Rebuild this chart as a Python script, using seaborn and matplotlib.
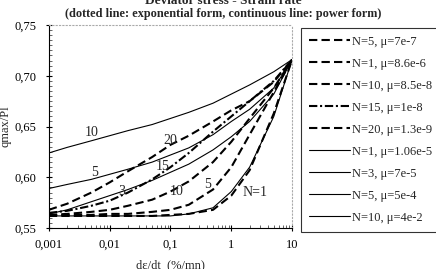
import numpy as np
import pandas as pd
import matplotlib
matplotlib.use("Agg")
import matplotlib.pyplot as plt
import matplotlib.ticker as mticker
import seaborn as sns

# strain rate grid (%/mn)
rate = [0.001, 0.002, 0.005, 0.01, 0.02, 0.05, 0.1, 0.2, 0.5, 1, 2, 5, 10]

# exponential form (dashed)
exp_n5 = [0.563, 0.563, 0.563, 0.564, 0.564, 0.566, 0.568, 0.573, 0.588, 0.610, 0.642, 0.684, 0.716]
exp_n1 = [0.562, 0.562, 0.562, 0.562, 0.562, 0.562, 0.563, 0.564, 0.568, 0.582, 0.607, 0.663, 0.716]
exp_n10 = [0.563, 0.564, 0.566, 0.568, 0.572, 0.578, 0.586, 0.596, 0.615, 0.635, 0.658, 0.688, 0.716]
exp_n15 = [0.565, 0.567, 0.572, 0.577, 0.585, 0.598, 0.610, 0.624, 0.645, 0.660, 0.675, 0.695, 0.716]
exp_n20 = [0.568, 0.574, 0.585, 0.595, 0.606, 0.620, 0.632, 0.641, 0.655, 0.666, 0.675, 0.694, 0.716]

# power form (continuous)
pow_n1 = [0.562, 0.562, 0.562, 0.562, 0.562, 0.562, 0.562, 0.564, 0.570, 0.586, 0.610, 0.660, 0.716]
pow_n3 = [0.564, 0.568, 0.576, 0.582, 0.588, 0.597, 0.605, 0.613, 0.627, 0.640, 0.655, 0.682, 0.716]
pow_n5 = [0.589, 0.593, 0.598, 0.603, 0.608, 0.615, 0.622, 0.629, 0.642, 0.655, 0.667, 0.688, 0.716]
pow_n10 = [0.624, 0.6295, 0.636, 0.641, 0.646, 0.652, 0.658, 0.664, 0.673, 0.682, 0.691, 0.704, 0.716]

series = [
    ("N=5, \u03bc=7e-7", exp_n5, "dash"),
    ("N=1, \u03bc=8.6e-6", exp_n1, "dash"),
    ("N=10, \u03bc=8.5e-8", exp_n10, "dash"),
    ("N=15, \u03bc=1e-8", exp_n15, "dashdot"),
    ("N=20, \u03bc=1.3e-9", exp_n20, "dash"),
    ("N=1, \u03bc=1.06e-5", pow_n1, "solid"),
    ("N=3, \u03bc=7e-5", pow_n3, "solid"),
    ("N=5, \u03bc=5e-4", pow_n5, "solid"),
    ("N=10, \u03bc=4e-2", pow_n10, "solid"),
]

curve_labels = ["10", "20", "5", "15", "3", "10", "5", "N=1"]
label_x = [0.0051, 0.098, 0.0057, 0.075, 0.0159, 0.128, 0.41, 2.46]
label_y = [0.644, 0.636, 0.605, 0.611, 0.586, 0.586, 0.593, 0.585]

sns.set_theme(style="white")
plt.rcParams["font.family"] = ["Liberation Serif", "DejaVu Serif"]

estilos = {
    "dash": dict(linestyle=(0, (4, 2)), linewidth=1.5),
    "dashdot": dict(linestyle=(0, (4, 1.3, 1, 1.3)), linewidth=1.5),
    "solid": dict(linestyle="-", linewidth=0.8),
}

fig = plt.figure(figsize=(4.36, 2.69), dpi=100)
ax = fig.add_axes([0.112, 0.152, 0.558, 0.755])

for nombre, valores, tipo in series:
    df = pd.DataFrame({"rate": rate, "q": valores})
    sns.lineplot(data=df, x="rate", y="q", ax=ax, color="black",
                 label=nombre, legend=False, **estilos[tipo])

for txt, tx, ty in zip(curve_labels, label_x, label_y):
    ax.text(tx, ty, txt, fontsize=10, ha="center", va="center")

ax.set_xscale("log")
ax.set_xlim(0.001, 10)
ax.set_ylim(0.55, 0.75)
ax.set_xticks([0.001, 0.01, 0.1, 1, 10])
ax.set_xticklabels(["0,001", "0,01", "0,1", "1", "10"])
ax.set_yticks([0.55, 0.60, 0.65, 0.70, 0.75])
ax.set_yticklabels(["0,55", "0,60", "0,65", "0,70", "0,75"])
ax.xaxis.set_minor_locator(mticker.LogLocator(base=10, subs=np.arange(2, 10)))
ax.xaxis.set_minor_formatter(mticker.NullFormatter())
ax.yaxis.set_minor_locator(mticker.MultipleLocator(0.005))
ax.tick_params(axis="y", which="major", labelsize=9, length=4, width=0.8,
               direction="inout", colors="black", pad=7, left=True)
ax.tick_params(axis="x", which="major", labelsize=9, length=4, width=0.8,
               direction="inout", colors="black", pad=6, bottom=True)
ax.tick_params(axis="both", which="minor", length=2, width=0.5, direction="in",
               bottom=True, left=True)

for lado in ["left", "bottom"]:
    ax.spines[lado].set_color("black")
    ax.spines[lado].set_linewidth(0.8)
for lado in ["top", "right"]:
    ax.spines[lado].set_color("#aaaaaa")
    ax.spines[lado].set_linestyle((0, (1, 2)))
    ax.spines[lado].set_linewidth(0.8)

ax.set_xlabel("d\u03b5/dt  (%/mn)", fontsize=9, labelpad=6)
ax.set_ylabel("qmax/Pl", fontsize=9, labelpad=2)

fig.text(0.512, 0.995, "Deviator stress - Strain rate", ha="center", va="center",
         fontsize=9.5, fontweight="bold")
fig.text(0.512, 0.948, "(dotted line: exponential form, continuous line: power form)",
         ha="center", va="center", fontsize=8.8, fontweight="bold")

handles, labels = ax.get_legend_handles_labels()
leg = fig.legend(handles, labels, loc="upper left", bbox_to_anchor=(0.690, 0.897),
                 frameon=True, fancybox=False, fontsize=9, handlelength=3.3,
                 handletextpad=0.15, labelspacing=0.8, borderpad=0.65,
                 borderaxespad=0)
leg.get_frame().set_edgecolor("black")
leg.get_frame().set_linewidth(0.8)

fig.savefig("out.png", dpi=100)
